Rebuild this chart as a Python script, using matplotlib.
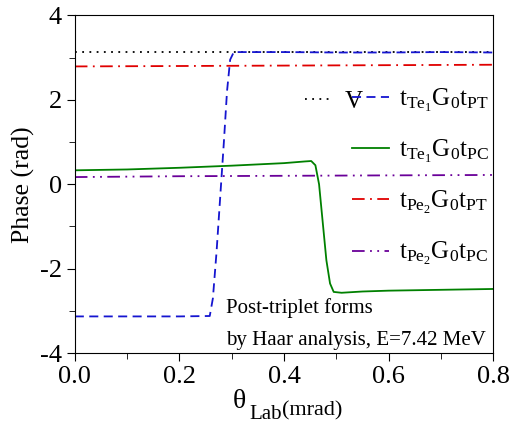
import matplotlib

matplotlib.use("Agg")
import matplotlib.pyplot as plt
from matplotlib.ticker import MultipleLocator, FormatStrFormatter

plt.rcParams["font.family"] = ["Liberation Serif", "DejaVu Serif"]
plt.rcParams["mathtext.fontset"] = "custom"
plt.rcParams["mathtext.rm"] = "Liberation Serif"
plt.rcParams["mathtext.it"] = "Liberation Serif:italic"
plt.rcParams["axes.unicode_minus"] = False

# phase curves (theta in mrad, phase in rad)
x_v = [0.0, 0.2, 0.4, 0.6, 0.8]
y_v = [3.13, 3.13, 3.13, 3.13, 3.13]

x_te1_pt = [0.0, 0.1, 0.2, 0.258, 0.264, 0.271, 0.278, 0.285, 0.291, 0.297, 0.304,
            0.4, 0.5, 0.6, 0.7, 0.8]
y_te1_pt = [-3.13, -3.13, -3.13, -3.12, -2.7, -1.6, -0.3, 1.0, 2.2, 2.95, 3.13,
            3.13, 3.12, 3.12, 3.13, 3.12]

x_te1_pc = [0.0, 0.1, 0.2, 0.3, 0.4, 0.44, 0.452, 0.46, 0.467, 0.474, 0.481,
            0.488, 0.495, 0.51, 0.55, 0.6, 0.7, 0.8]
y_te1_pc = [0.33, 0.35, 0.39, 0.44, 0.50, 0.54, 0.55, 0.45, 0.0, -0.9, -1.8,
            -2.35, -2.55, -2.57, -2.54, -2.52, -2.50, -2.48]

x_pe2_pt = [0.0, 0.2, 0.4, 0.6, 0.8]
y_pe2_pt = [2.79, 2.80, 2.81, 2.82, 2.83]

x_pe2_pc = [0.0, 0.2, 0.4, 0.6, 0.8]
y_pe2_pc = [0.17, 0.19, 0.20, 0.21, 0.22]

fig = plt.figure(figsize=(5.09, 4.26), dpi=100)
ax = fig.add_axes([0.147, 0.171, 0.822, 0.793])

lw = 1.3
l_v, = ax.plot(x_v, y_v, color="black", ls=(0, (1, 3)), lw=lw)
l1, = ax.plot(x_te1_pt, y_te1_pt, color="#1515d0", ls=(0, (5, 3)), lw=lw)
l2, = ax.plot(x_te1_pc, y_te1_pc, color="#008000", ls="-", lw=lw)
l3, = ax.plot(x_pe2_pt, y_pe2_pt, color="#e00000", ls=(0, (7, 3, 1, 3)), lw=lw)
l4, = ax.plot(x_pe2_pc, y_pe2_pc, color="#6a0099", ls=(0, (7, 3, 1, 3, 1, 3)), lw=lw)

ax.set_xlim(0, 0.8)
ax.set_ylim(-4, 4)
ax.xaxis.set_major_locator(MultipleLocator(0.2))
ax.xaxis.set_minor_locator(MultipleLocator(0.1))
ax.yaxis.set_major_locator(MultipleLocator(2))
ax.yaxis.set_minor_locator(MultipleLocator(1))
ax.tick_params(which="both", direction="out", labelsize=19)
ax.tick_params(which="major", length=6)
ax.tick_params(which="minor", length=4)
ax.xaxis.set_major_formatter(FormatStrFormatter("%.1f"))

ax.set_ylabel("Phase (rad)", fontsize=18.5, labelpad=3)

# x label pieces: theta, subscript "Lab", then "(mrad)" slightly raised
fig.text(0.458, 0.042, "θ", fontsize=20, va="baseline")
fig.text(0.489, 0.0164, "Lab", fontsize=15, va="baseline")
fig.text(0.554, 0.0258, "(mrad)", fontsize=16, va="baseline")

leg_v = ax.legend([l_v], ["V"], loc="center left", bbox_to_anchor=(0.55, 0.745),
                  frameon=False, fontsize=18, handlelength=1.05, handletextpad=0.55,
                  borderpad=0, borderaxespad=0)
ax.add_artist(leg_v)
ax.legend([l1, l2, l3, l4],
          [r"$\mathrm{t_{Te_1}G_0t_{PT}}$", r"$\mathrm{t_{Te_1}G_0t_{PC}}$",
           r"$\mathrm{t_{Pe_2}G_0t_{PT}}$", r"$\mathrm{t_{Pe_2}G_0t_{PC}}$"],
          loc="upper left", bbox_to_anchor=(0.662, 0.788), frameon=False,
          fontsize=18, handlelength=1.5, handletextpad=0.4, labelspacing=0.96,
          borderpad=0, borderaxespad=0)

ax.text(0.361, 0.087, "Post-triplet forms\nby Haar analysis, E=7.42 MeV",
        transform=ax.transAxes, fontsize=15, linespacing=1.95, va="center")

fig.savefig("out.png", dpi=100)
